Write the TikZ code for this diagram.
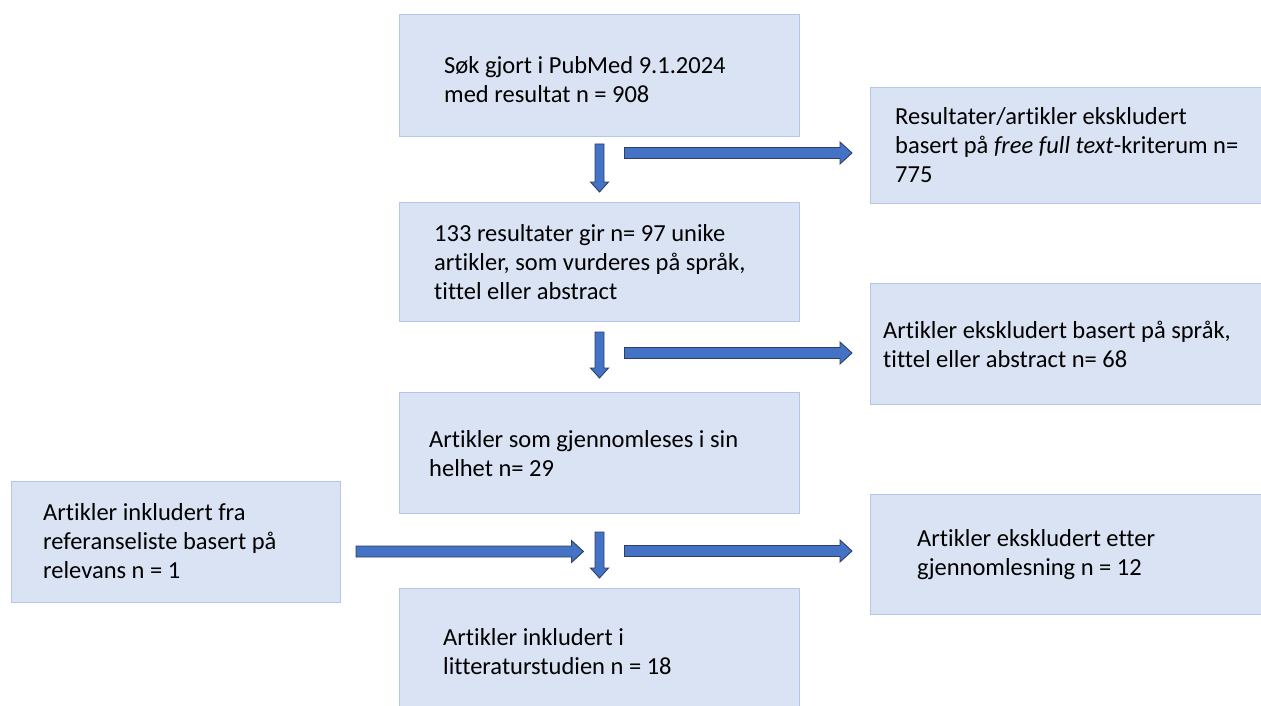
\documentclass[tikz,border=0pt]{standalone}
\usepackage{fontspec}
\setmainfont{Carlito}[Ligatures = NoCommon]
\usepackage{tikz}
\usetikzlibrary{calc}

\definecolor{boxfill}{HTML}{DAE3F3}
\definecolor{boxline}{HTML}{B4C7E7}
\definecolor{arrowfill}{HTML}{4472C4}
\definecolor{arrowline}{HTML}{2F3F66}

\tikzset{
  box/.style = {draw = boxline, fill = boxfill, line width = 1pt, anchor = north west, inner sep = 0pt},
  boxtext/.style = {anchor = west, align = left, inner sep = 0pt, font = \fontsize{24.5pt}{29pt}\selectfont},
  flowarrow/.style = {draw = arrowline, fill = arrowfill, line width = 0.9pt, line join = miter}
}

% block arrows: start point, end point
\newcommand\blockright[2]{%
  \draw [flowarrow] let \p1 = #1, \p2 = #2 in
    (\x1, \y1 + 5.5pt) -- (\x2 - 12pt, \y1 + 5.5pt) -- (\x2 - 12pt, \y1 + 11pt) -- (\x2, \y1)
    -- (\x2 - 12pt, \y1 - 11pt) -- (\x2 - 12pt, \y1 - 5.5pt) -- (\x1, \y1 - 5.5pt) -- cycle;}
\newcommand\blockdown[2]{%
  \draw [flowarrow] let \p1 = #1, \p2 = #2 in
    (\x1 - 4.5pt, \y1) -- (\x1 - 4.5pt, \y2 + 10pt) -- (\x1 - 9pt, \y2 + 10pt) -- (\x1, \y2)
    -- (\x1 + 9pt, \y2 + 10pt) -- (\x1 + 4.5pt, \y2 + 10pt) -- (\x1 + 4.5pt, \y1) -- cycle;}

\begin{document}
\begin{tikzpicture}[x = 1pt, y = -1pt]
\useasboundingbox (0, 0) rectangle (1261, 706);
\clip (0, 0) rectangle (1261, 706);
%\draw[very thin, color = gray](0, 0) grid[step = 50] (1261, 706);

% middle column
\node [box, minimum width = 400pt, minimum height = 122pt] (search) at (399, 14) {};
\node [box, minimum width = 400pt, minimum height = 119pt] (screen) at (399, 202) {};
\node [box, minimum width = 400pt, minimum height = 121pt] (fulltext) at (399, 392) {};
\node [box, minimum width = 400pt, minimum height = 130pt] (included) at (399, 588) {};

% side boxes
\node [box, minimum width = 400pt, minimum height = 116pt] (exclfree) at (870, 87) {};
\node [box, minimum width = 400pt, minimum height = 121pt] (excllang) at (870, 283) {};
\node [box, minimum width = 400pt, minimum height = 120pt] (exclfull) at (870, 494) {};
\node [box, minimum width = 329pt, minimum height = 121pt] (refs) at (11, 481) {};

\node [boxtext] (searchtext) at ([shift = {(45pt, -4pt)}]search.west)
  {Søk gjort i PubMed 9.1.2024\\med resultat n = 908};
\node [boxtext] (screentext) at ([xshift = 35pt]screen.west)
  {133 resultater gir n= 97 unike\\artikler, som vurderes på språk,\\tittel eller abstract};
\node [boxtext] (fulltexttext) at ([shift = {(30pt, -1pt)}]fulltext.west)
  {Artikler som gjennomleses i sin\\helhet n= 29};
\node [boxtext] (includedtext) at ([shift = {(44pt, -3pt)}]included.north west |- 0, 649)
  {Artikler inkludert i\\litteraturstudien n = 18};
\node [boxtext] (exclfreetext) at ([xshift = 25pt]exclfree.west)
  {Resultater/artikler ekskludert\\basert på \textit{free full text}-kriterum n=\\775};
\node [boxtext] (excllangtext) at ([xshift = 13pt]excllang.west)
  {Artikler ekskludert basert på språk,\\tittel eller abstract n= 68};
\node [boxtext] (exclfulltext) at ([xshift = 47pt]exclfull.west)
  {Artikler ekskludert etter\\gjennomlesning n = 12};
\node [boxtext] (refstext) at ([shift = {(32pt, 1pt)}]refs.west)
  {Artikler inkludert fra\\referanseliste basert på\\relevans n = 1};

% arrows down
\blockdown{([yshift = -7pt]search.south)}{([yshift = 10pt]screen.north)}
\blockdown{([yshift = -10pt]screen.south)}{([yshift = 14pt]fulltext.north)}
\blockdown{([yshift = -18pt]fulltext.south)}{([yshift = 10pt]included.north)}

% arrows to the side
\blockright{([shift = {(25pt, -16pt)}]search.south)}{([xshift = -18pt]exclfree.west)}
\blockright{([shift = {(25pt, -31pt)}]screen.south)}{([xshift = -18pt]excllang.west)}
\blockright{([shift = {(25pt, -37pt)}]fulltext.south)}{([xshift = -18pt]exclfull.west)}
\blockright{([shift = {(15pt, -9.5pt)}]refs.east)}{([xshift = -16pt]fulltext.south)}
\end{tikzpicture}
\end{document}
